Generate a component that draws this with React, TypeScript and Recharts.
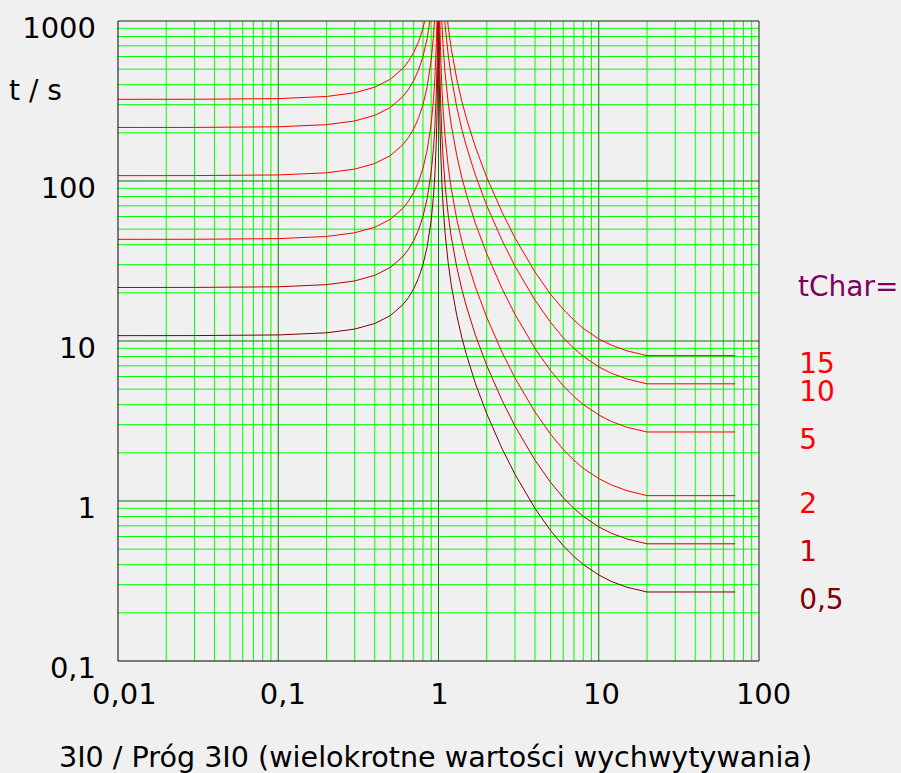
import React from 'react';
import { LineChart, Line, XAxis, YAxis, ReferenceLine, LabelList } from 'recharts';

const FONT = '"DejaVu Sans", Verdana, sans-serif';

// Axis ticks
const xTicks = [0.01, 0.1, 1, 10, 100];
const yTicks = [0.1, 1, 10, 100, 1000];
const xMajorGrid = [0.1, 1, 10];
const yMajorGrid = [1, 10, 100];
const xDecades = [0.01, 0.1, 1, 10];
const yDecades = [0.1, 1, 10, 100];
const minorMultipliers = [2, 3, 4, 5, 6, 7, 8, 9];

// Series: tChar settings
const tCharLabels = ['0,5', '1', '2', '5', '10', '15'];
const tCharColors = ['#800000', '#c00000', '#ff0000', '#ff0000', '#ff0000', '#ff0000'];

// Branch below pickup (3I0 / threshold < 1)
const belowX = [0.01, 0.03, 0.1, 0.2, 0.3, 0.4, 0.5, 0.6, 0.65, 0.7, 0.75, 0.8, 0.85, 0.9, 0.93, 0.95, 0.97, 0.98, 0.99, 0.995, 0.998];
const tc05Below = [10.8, 10.81, 10.91, 11.25, 11.87, 12.86, 14.4, 16.88, 18.7, 21.18, 24.69, 30.0, 38.92, 56.84, 79.94, 110.8, 182.7, 272.7, 542.7, 1083, 2703];
const tc1Below = [21.6, 21.62, 21.82, 22.5, 23.74, 25.71, 28.8, 33.75, 37.4, 42.35, 49.37, 60.0, 77.84, 113.7, 159.9, 221.5, 365.5, 545.5, 1085, 2165, 5405];
const tc2Below = [43.2, 43.24, 43.64, 45.0, 47.47, 51.43, 57.6, 67.5, 74.8, 84.71, 98.74, 120.0, 155.7, 227.4, 319.8, 443.1, 730.9, 1091, 2171, 4331, 10811];
const tc5Below = [108, 108.1, 109.1, 112.5, 118.7, 128.6, 144, 168.8, 187.0, 211.8, 246.9, 300, 389.2, 568.4, 799.4, 1108, 1827, 2727, 5427, 10827, 27027];
const tc10Below = [216, 216.2, 218.2, 225, 237.4, 257.1, 288, 337.5, 374.0, 423.5, 493.7, 600, 778.4, 1137, 1599, 2215, 3655, 5455, 10854, 21654, 54054];
const tc15Below = [324, 324.3, 327.3, 337.5, 356.0, 385.7, 432, 506.3, 561.0, 635.3, 740.6, 900, 1168, 1705, 2398, 3323, 5482, 8182, 16281, 32481, 81081];

// Branch above pickup (3I0 / threshold > 1)
const aboveX = [1.002, 1.005, 1.01, 1.02, 1.03, 1.05, 1.07, 1.1, 1.15, 1.2, 1.3, 1.4, 1.5, 1.7, 2, 2.5, 3, 4, 5, 6, 7, 8, 10, 12, 15, 20, 71];
const tc05Above = [2449, 978.3, 488.1, 243.0, 161.3, 95.9, 67.9, 46.9, 30.65, 22.53, 14.46, 10.46, 8.09, 5.43, 3.51, 2.11, 1.47, 0.899, 0.654, 0.526, 0.45, 0.401, 0.345, 0.314, 0.289, 0.27, 0.27];
const tc1Above = [4898, 1957, 976.1, 485.9, 322.5, 191.8, 135.8, 93.87, 61.3, 45.06, 28.91, 20.92, 16.18, 10.87, 7.03, 4.23, 2.94, 1.8, 1.31, 1.05, 0.9, 0.802, 0.689, 0.628, 0.579, 0.54, 0.54];
const tc2Above = [9796, 3913, 1952, 971.8, 645.0, 383.6, 271.6, 187.7, 122.6, 90.1, 57.8, 41.84, 32.36, 21.73, 14.06, 8.45, 5.88, 3.6, 2.62, 2.1, 1.8, 1.6, 1.38, 1.26, 1.16, 1.08, 1.08];
const tc5Above = [24490, 9783, 4881, 2430, 1612, 959, 679, 469.4, 306.5, 225.3, 144.6, 104.6, 80.9, 54.3, 35.1, 21.1, 14.7, 8.99, 6.54, 5.26, 4.5, 4.01, 3.45, 3.14, 2.89, 2.7, 2.7];
const tc10Above = [48980, 19566, 9761, 4859, 3225, 1918, 1358, 938.7, 613.0, 450.6, 289.1, 209.2, 161.8, 108.7, 70.3, 42.3, 29.4, 18.0, 13.1, 10.5, 9.0, 8.02, 6.89, 6.28, 5.79, 5.4, 5.4];
const tc15Above = [73470, 29349, 14642, 7289, 4838, 2877, 2037, 1408, 919.5, 675.9, 433.7, 313.8, 242.7, 163.0, 105.4, 63.4, 44.1, 27.0, 19.6, 15.8, 13.5, 12.0, 10.3, 9.42, 8.68, 8.1, 8.1];

const belowSets = [tc05Below, tc1Below, tc2Below, tc5Below, tc10Below, tc15Below];
const aboveSets = [tc05Above, tc1Above, tc2Above, tc5Above, tc10Above, tc15Above];

const seriesData = belowSets.map((below, s) => [
  ...belowX.map((x, i) => ({ x, t: below[i] })),
  ...aboveX.map((x, i) => ({ x, t: aboveSets[s][i] })),
]);

const fmt = (v: number) => String(v).replace('.', ',');

const xMinor = xDecades.flatMap((d) => minorMultipliers.map((m) => +(m * d).toPrecision(3)));
const yMinor = yDecades.flatMap((d) => minorMultipliers.map((m) => +(m * d).toPrecision(3)));

const XTick = (props: any) => {
  const { x, y, payload } = props;
  const label = fmt(payload.value);
  const dx = 1.8 * label.length - 0.8;
  return (
    <text x={x + dx} y={y + 42.5} textAnchor="middle" fontSize={29} fontFamily={FONT} fill="#000">
      {label}
    </text>
  );
};

const YTick = (props: any) => {
  const { x, y, payload } = props;
  return (
    <text x={x - 22} y={y + 16.5} textAnchor="end" fontSize={29} fontFamily={FONT} fill="#000">
      {fmt(payload.value)}
    </text>
  );
};

export default function App() {
  return (
    <div style={{ position: 'absolute', left: 0, top: 0, width: 901, height: 773, background: '#f0f0f0' }}>
      <LineChart
        width={901}
        height={773}
        margin={{ top: 21, right: 142, bottom: 72, left: 58 }}
        style={{ background: '#f0f0f0' }}
      >
        <XAxis
          dataKey="x"
          type="number"
          scale="log"
          domain={[0.01, 100]}
          ticks={xTicks}
          allowDataOverflow
          interval={0}
          height={40}
          tickSize={0}
          tickMargin={0}
          tickLine={false}
          axisLine={{ stroke: '#000', strokeWidth: 1 }}
          tick={XTick}
        />
        <YAxis
          dataKey="t"
          type="number"
          scale="log"
          domain={[0.1, 1000]}
          ticks={yTicks}
          allowDataOverflow
          interval={0}
          width={60}
          tickSize={0}
          tickMargin={0}
          tickLine={false}
          axisLine={{ stroke: '#000', strokeWidth: 1 }}
          tick={YTick}
        />
        {xMinor.map((v) => (
          <ReferenceLine key={'xm' + v} x={v} stroke="#00ff00" strokeWidth={1} />
        ))}
        {yMinor.map((v) => (
          <ReferenceLine key={'ym' + v} y={v} stroke="#00ff00" strokeWidth={1} />
        ))}
        {xMajorGrid.map((v) => (
          <ReferenceLine key={'xM' + v} x={v} stroke="#008000" strokeWidth={1} />
        ))}
        {yMajorGrid.map((v) => (
          <ReferenceLine key={'yM' + v} y={v} stroke="#008000" strokeWidth={1} />
        ))}
        <ReferenceLine x={100} stroke="#102810" strokeWidth={1} />
        <ReferenceLine y={1000} stroke="#102810" strokeWidth={1} />
        {seriesData.map((data, s) => (
          <Line
            key={tCharLabels[s]}
            data={data}
            dataKey="t"
            type="linear"
            stroke={tCharColors[s]}
            strokeWidth={1}
            dot={false}
            activeDot={false}
            isAnimationActive={false}
          >
            <LabelList
              dataKey="t"
              content={(p: any) =>
                p.index === data.length - 1 ? (
                  <text x={p.x + 64} y={p.y + 17.5} fontSize={28} fontFamily={FONT} fill={tCharColors[s]}>
                    {tCharLabels[s]}
                  </text>
                ) : null
              }
            />
          </Line>
        ))}
        <text x={798} y={296} fontSize={28} fontFamily={FONT} fill="#800060">
          tChar=
        </text>
        <text x={9} y={100} fontSize={28} fontFamily={FONT} fill="#000">
          t / s
        </text>
        <text x={435.5} y={767} textAnchor="middle" fontSize={28.6} fontFamily={FONT} fill="#000">
          3I0 / Próg 3I0 (wielokrotne wartości wychwytywania)
        </text>
      </LineChart>
    </div>
  );
}
